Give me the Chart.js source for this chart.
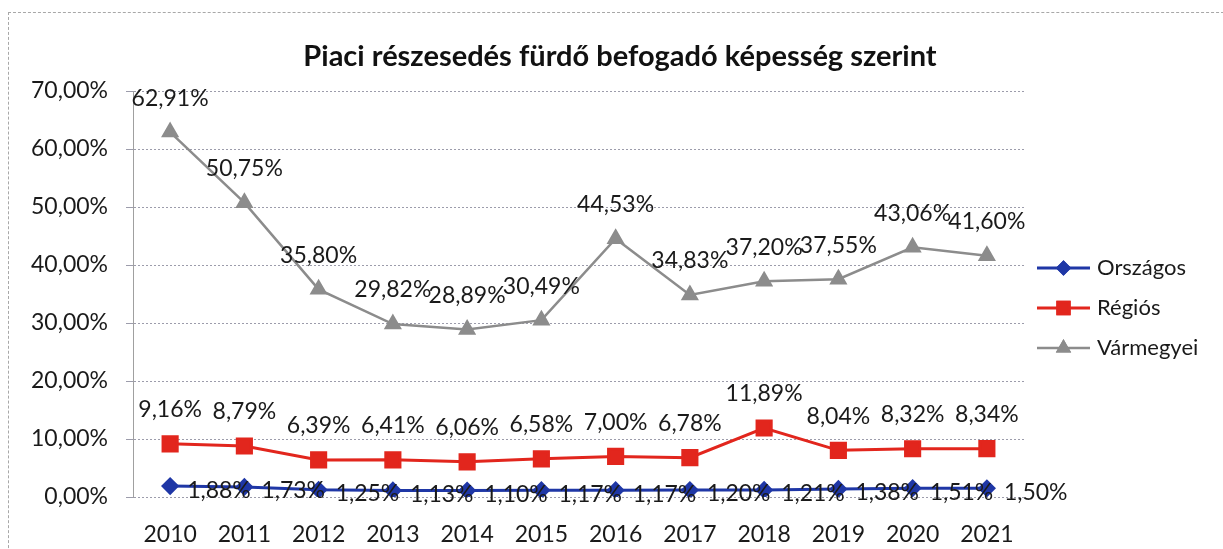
<!DOCTYPE html>
<html>
<head>
<meta charset="utf-8">
<script src="https://cdn.jsdelivr.net/npm/chart.js@4/dist/chart.umd.min.js"></script>
<style>
    html, body { margin: 0; padding: 0; background: #fff; overflow: hidden; }
    #wrap { position: relative; width: 1223px; height: 549px; }
    #frame { position: absolute; left: 8px; top: 12px; width: 1240px; height: 560px; border: 1px dashed #a8a8a8; border-right: none; border-bottom: none; }
    canvas { position: absolute; left: 0; top: 0; }
</style>
</head>
<body>
<div id="wrap">
    <div id="frame"></div>
    <canvas id="chart" width="1223" height="549"></canvas>
</div>
<script>
const years = ["2010", "2011", "2012", "2013", "2014", "2015", "2016", "2017", "2018", "2019", "2020", "2021"];
const orszagos = [1.88, 1.73, 1.25, 1.13, 1.10, 1.17, 1.17, 1.20, 1.21, 1.38, 1.51, 1.50];
const regios = [9.16, 8.79, 6.39, 6.41, 6.06, 6.58, 7.00, 6.78, 11.89, 8.04, 8.32, 8.34];
const varmegyei = [62.91, 50.75, 35.80, 29.82, 28.89, 30.49, 44.53, 34.83, 37.20, 37.55, 43.06, 41.60];
const yTicks = [0, 10, 20, 30, 40, 50, 60, 70];
const chartTitle = "Piaci részesedés fürdő befogadó képesség szerint";

const FONT = "Lato, 'Open Sans', sans-serif";
const fmt = v => v.toFixed(2).replace(".", ",") + "%";

// cím: a teljes keret közepére, nem csak a rajzterület fölé
const titlePlugin = {
    id: "frameTitle",
    afterDraw(chart) {
        const ctx = chart.ctx;
        ctx.save();
        ctx.font = "bold 29px " + FONT;
        ctx.fillStyle = "#111";
        ctx.textAlign = "center";
        ctx.textBaseline = "middle";
        ctx.fillText(chartTitle, 620, 57);
        ctx.restore();
    }
};

// adatcímkék: a pont fölé vagy jobbra
const labelPlugin = {
    id: "pointLabels",
    afterDatasetsDraw(chart) {
        const ctx = chart.ctx;
        ctx.save();
        ctx.font = "23px " + FONT;
        ctx.fillStyle = "#1a1a1a";
        ctx.textBaseline = "middle";
        chart.data.datasets.forEach((ds, i) => {
            const meta = chart.getDatasetMeta(i);
            meta.data.forEach((pt, j) => {
                const txt = fmt(ds.data[j]);
                if (ds.labelPos === "right") {
                    ctx.textAlign = "left";
                    ctx.fillText(txt, pt.x + 17, pt.y + 4);
                } else {
                    ctx.textAlign = "center";
                    ctx.fillText(txt, pt.x, pt.y - 34);
                }
            });
        });
        ctx.restore();
    }
};

// jelmagyarázat: vonal + jelölő, mint az Excelben
const legendPlugin = {
    id: "lineLegend",
    afterDraw(chart) {
        const ctx = chart.ctx;
        const x0 = 1037, x1 = 1090, yStart = 268, step = 40;
        ctx.save();
        chart.data.datasets.forEach((ds, i) => {
            const y = yStart + i * step;
            ctx.strokeStyle = ds.borderColor;
            ctx.lineWidth = ds.borderWidth;
            ctx.beginPath();
            ctx.moveTo(x0, y);
            ctx.lineTo(x1, y);
            ctx.stroke();
            Chart.helpers.drawPoint(ctx, {
                pointStyle: ds.pointStyle,
                radius: ds.pointRadius * 0.8,
                borderWidth: 1,
                rotation: 0
            }, (x0 + x1) / 2, y);
            ctx.fillStyle = ds.pointBackgroundColor;
            ctx.strokeStyle = ds.pointBorderColor;
            ctx.fill();
            ctx.stroke();
            ctx.font = "22px " + FONT;
            ctx.fillStyle = "#1a1a1a";
            ctx.textAlign = "left";
            ctx.textBaseline = "middle";
            ctx.fillText(ds.label, x1 + 7, y);
        });
        ctx.restore();
    }
};

new Chart(document.getElementById("chart"), {
    type: "line",
    data: {
        labels: years,
        datasets: [
            {
                label: "Országos",
                data: orszagos,
                labelPos: "right",
                borderColor: "#1f37a6",
                backgroundColor: "#1f37a6",
                borderWidth: 3,
                pointStyle: "rectRot",
                pointRadius: 7,
                pointBackgroundColor: "#1f37a6",
                pointBorderColor: "#1f37a6",
                tension: 0
            },
            {
                label: "Régiós",
                data: regios,
                labelPos: "above",
                borderColor: "#e2261d",
                backgroundColor: "#e2261d",
                borderWidth: 3,
                pointStyle: "rect",
                pointRadius: 10,
                pointBackgroundColor: "#e2261d",
                pointBorderColor: "#e2261d",
                tension: 0
            },
            {
                label: "Vármegyei",
                data: varmegyei,
                labelPos: "above",
                borderColor: "#8c8c8c",
                backgroundColor: "#8c8c8c",
                borderWidth: 2.5,
                pointStyle: "triangle",
                pointRadius: 8,
                pointBackgroundColor: "#8c8c8c",
                pointBorderColor: "#8c8c8c",
                tension: 0
            }
        ]
    },
    options: {
        responsive: false,
        animation: false,
        layout: { padding: { left: 0, right: 199, top: 91, bottom: 0 } },
        plugins: {
            legend: { display: false },
            tooltip: { enabled: false },
            title: { display: false }
        },
        scales: {
            x: {
                offset: true,
                grid: { display: false, drawTicks: false },
                border: { display: false },
                ticks: { color: "#1a1a1a", padding: 24, font: { family: FONT, size: 23 } },
                afterFit: s => { s.height = 52; }
            },
            y: {
                min: 0,
                max: 70,
                afterBuildTicks: s => { s.ticks = yTicks.map(v => ({ value: v })); },
                grid: { color: "#9c9cab", lineWidth: 1, tickLength: 7 },
                border: { display: true, color: "#a0a0a0", dash: [2, 2] },
                ticks: {
                    color: "#1a1a1a",
                    padding: 18,
                    font: { family: FONT, size: 23 },
                    callback: v => v.toFixed(2).replace(".", ",") + "%"
                },
                afterFit: s => { s.width = 133; }
            }
        }
    },
    plugins: [labelPlugin, legendPlugin, titlePlugin]
});
</script>
</body>
</html>
